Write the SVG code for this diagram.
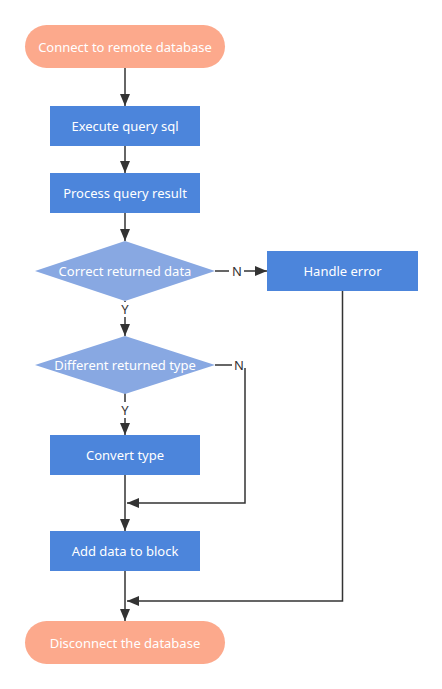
<svg xmlns="http://www.w3.org/2000/svg" width="442" height="689" viewBox="0 0 442 689">
<style>
.term{fill:#fca98c;}
.proc{fill:#4c85db;}
.dec{fill:#88a8e2;}
.t{font-family:"Noto Sans","Open Sans",sans-serif;font-size:13px;fill:#ffffff;text-anchor:middle;dominant-baseline:central;}
.lbl{font-family:"Noto Sans","Open Sans",sans-serif;font-size:13px;fill:#333333;text-anchor:middle;dominant-baseline:central;}
.ln{stroke:#333333;stroke-width:1.5;fill:none;}
</style>
<defs>
<marker id="arr" viewBox="0 0 12 10" refX="12" refY="5" markerWidth="12" markerHeight="10" markerUnits="userSpaceOnUse" orient="auto">
<path d="M0,0 L12,5 L0,10 Z" fill="#333333"/>
</marker>
</defs>
<rect width="442" height="689" fill="#ffffff"/>
<g id="connectors">
<path class="ln" d="M125,68 V106" marker-end="url(#arr)"/>
<path class="ln" d="M125,146 V173" marker-end="url(#arr)"/>
<path class="ln" d="M125,213 V241" marker-end="url(#arr)"/>
<path class="ln" d="M215,271 H229"/>
<path class="ln" d="M244,271 H267" marker-end="url(#arr)"/>
<text class="lbl" x="237" y="271">N</text>
<path class="ln" d="M125,301 V302"/>
<path class="ln" d="M125,317 V336" marker-end="url(#arr)"/>
<text class="lbl" x="125" y="309">Y</text>
<path class="ln" d="M215,365 H232"/>
<text class="lbl" x="239" y="365">N</text>
<path class="ln" d="M245,368 V503 H127" marker-end="url(#arr)"/>
<path class="ln" d="M125,393 V402"/>
<path class="ln" d="M125,418 V435" marker-end="url(#arr)"/>
<text class="lbl" x="125" y="410">Y</text>
<path class="ln" d="M125,475 V531" marker-end="url(#arr)"/>
<path class="ln" d="M125,571 V621" marker-end="url(#arr)"/>
<path class="ln" d="M342.5,291 V601 H127" marker-end="url(#arr)"/>
</g>
<g id="start">
<rect class="term" x="25" y="25" width="200" height="43" rx="21.5"/>
<text class="t" x="125" y="46.5">Connect to remote database</text>
</g>
<g id="execute">
<rect class="proc" x="50" y="106" width="150" height="40"/>
<text class="t" x="125" y="126">Execute query sql</text>
</g>
<g id="process">
<rect class="proc" x="50" y="173" width="150" height="40"/>
<text class="t" x="125" y="193">Process query result</text>
</g>
<g id="correct">
<polygon class="dec" points="125,241 215,271 125,301 35,271"/>
<text class="t" x="125" y="271">Correct returned data</text>
</g>
<g id="handle">
<rect class="proc" x="267" y="251" width="151" height="40"/>
<text class="t" x="342.5" y="271">Handle error</text>
</g>
<g id="different">
<polygon class="dec" points="125,336 215,365 125,394 35,365"/>
<text class="t" x="125" y="365">Different returned type</text>
</g>
<g id="convert">
<rect class="proc" x="50" y="435" width="150" height="40"/>
<text class="t" x="125" y="455">Convert type</text>
</g>
<g id="add">
<rect class="proc" x="50" y="531" width="150" height="40"/>
<text class="t" x="125" y="551">Add data to block</text>
</g>
<g id="end">
<rect class="term" x="25" y="621" width="200" height="43" rx="21.5"/>
<text class="t" x="125" y="642.5">Disconnect the database</text>
</g>
</svg>
